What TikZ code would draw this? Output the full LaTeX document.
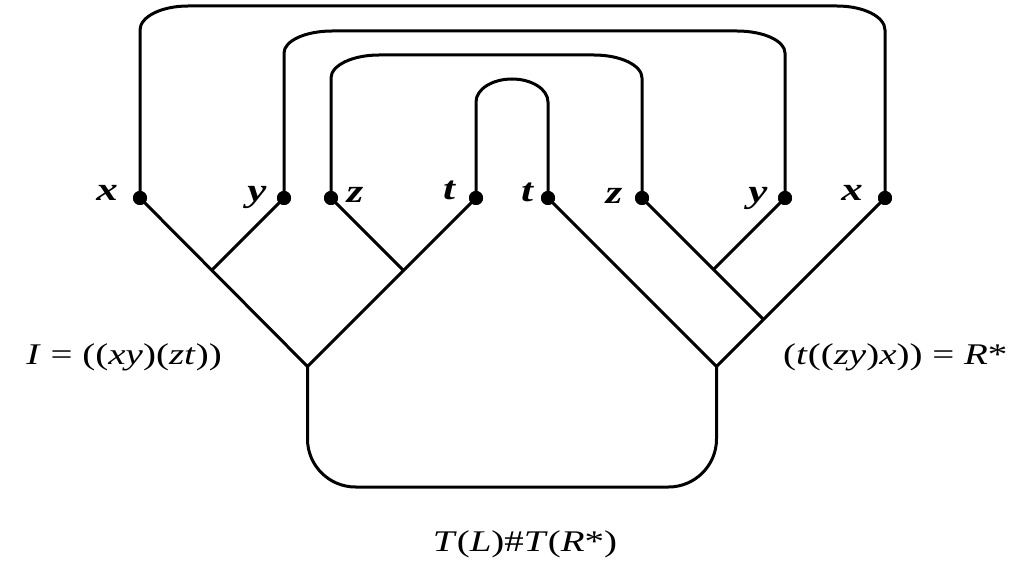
\documentclass[tikz,border=0pt]{standalone}
\usepackage{fontspec}
\setmainfont{Liberation Serif}
\newfontfamily\labfont[FakeStretch=1.3]{Liberation Serif}
\begin{document}
\begin{tikzpicture}[x=1pt,y=-1pt,
  wire/.style={line width=3pt,line join=miter},
  dotnode/.style={circle,fill=black,inner sep=0pt,minimum size=14pt},
  leaflab/.style={inner sep=0pt,font=\labfont\fontsize{33}{36}\selectfont\bfseries\itshape},
  mainlab/.style={inner sep=0pt,font=\labfont\fontsize{30}{36}\selectfont}]
\path[use as bounding box] (0,0) rectangle (1028,569);

% leaves
\node[dotnode] (xl) at (140,198) {};
\node[dotnode] (yl) at (284,198) {};
\node[dotnode] (zl) at (331,198) {};
\node[dotnode] (tl) at (476,198) {};
\node[dotnode] (tr) at (548,198) {};
\node[dotnode] (zr) at (642,198) {};
\node[dotnode] (yr) at (785,198) {};
\node[dotnode] (xr) at (885,198) {};

% internal vertices
\coordinate (rootl) at (307.5,366.5);
\coordinate (xy) at (212,270);
\coordinate (zt) at (403.5,270.5);
\coordinate (rootr) at (716.5,366.5);
\coordinate (zy) at (713.5,269.5);
\coordinate (zyx) at (763.5,319.5);

% left tree ((xy)(zt))
\draw[wire] (xl.center) -- (rootl) -- (tl.center);
\draw[wire] (yl.center) -- (xy);
\draw[wire] (zl.center) -- (zt);
% right tree (t((zy)x))
\draw[wire] (tr.center) -- (rootr) -- (xr.center);
\draw[wire] (zr.center) -- (zyx);
\draw[wire] (yr.center) -- (zy);

% top connections
\draw[wire] (xl.center) -- (140,30) .. controls (140,16.7) and (161.5,6) .. (188,6)
  -- (837,6) .. controls (863.5,6) and (885,16.7) .. (885,30) -- (xr.center);
\draw[wire] (yl.center) -- (284,53) .. controls (284,40.85) and (305.5,31) .. (332,31)
  -- (737,31) .. controls (763.5,31) and (785,40.85) .. (785,53) -- (yr.center);
\draw[wire] (zl.center) -- (331,78) .. controls (331,65.3) and (352.5,55) .. (379,55)
  -- (594,55) .. controls (620.5,55) and (642,65.3) .. (642,78) -- (zr.center);
\draw[wire] (tl.center) -- (476,102) .. controls (476,89.3) and (492.1,79) .. (512,79)
  .. controls (531.9,79) and (548,89.3) .. (548,102) -- (tr.center);

% bottom connection
\draw[wire] (rootl) -- (307.5,439) .. controls (307.5,465.5) and (329,487) .. (355.5,487)
  -- (668.5,487) .. controls (695,487) and (716.5,465.5) .. (716.5,439) -- (rootr);

% redraw dots on top
\foreach \n in {xl,yl,zl,tl,tr,zr,yr,xr}{\fill (\n) circle (7pt);}

% leaf labels
\node[leaflab] (lxl) at (107,193) {x};
\node[leaflab] (lyl) at (257,197) {y};
\node[leaflab] (lzl) at (355,195) {z};
\node[leaflab] (ltl) at (449,190) {t};
\node[leaflab] (ltr) at (527,192) {t};
\node[leaflab] (lzr) at (614,196) {z};
\node[leaflab] (lyr) at (758,198) {y};
\node[leaflab] (lxr) at (852,193) {x};

% main labels
\node[mainlab,anchor=base east] (labl) at (222,364)
  {\textit{I} = ((\textit{xy})(\textit{zt}))};
\node[mainlab,anchor=base west] (labr) at (783,364)
  {(\textit{t}((\textit{zy})\textit{x})) = \textit{R}*};
\node[mainlab,anchor=base] (labb) at (525,551)
  {\textit{T}(\textit{L})\#\textit{T}(\textit{R}*)};
\end{tikzpicture}
\end{document}
